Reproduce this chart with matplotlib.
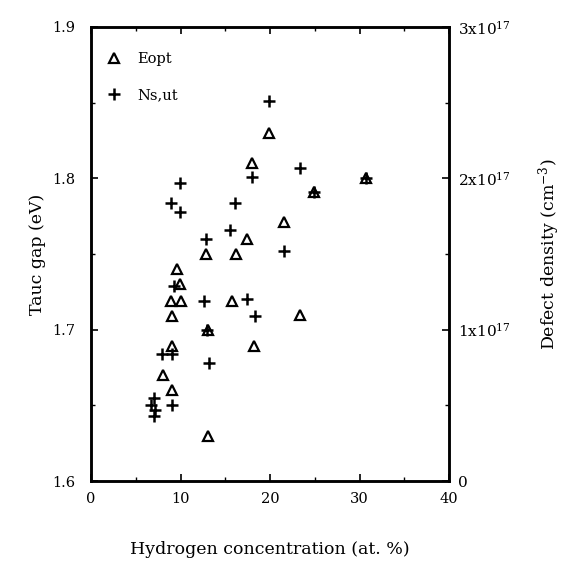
"""
Tauc gap and defect density against hydrogen concentration
"""
import matplotlib

matplotlib.use("Agg")
import matplotlib.pyplot as plt
from matplotlib.ticker import FixedLocator, MultipleLocator

plt.rcParams["font.family"] = ["DejaVu Serif"]
plt.rcParams["mathtext.fontset"] = "dejavuserif"

# Optical (Tauc) gap, eV
eopt_h = [18.0, 19.9, 21.6, 17.4, 12.9, 16.2, 9.6, 9.9, 8.9, 10.0, 15.7, 9.0,
          13.1, 23.4, 18.2, 9.1, 8.1, 9.0, 13.1, 24.9, 30.7]
eopt_gap = [1.810, 1.830, 1.771, 1.760, 1.750, 1.750, 1.740, 1.730, 1.719, 1.719,
            1.719, 1.709, 1.700, 1.710, 1.689, 1.689, 1.670, 1.660, 1.630, 1.791, 1.800]

# Defect density, units of 1e17 cm^-3
ns_h = [19.9, 18.0, 23.4, 9.9, 8.9, 9.9, 16.1, 15.5, 12.9, 21.6, 9.3, 12.6, 17.4,
        18.3, 13.0, 7.9, 9.0, 13.2, 9.0, 7.0, 6.7, 7.1, 7.0, 24.9, 30.7]
ns_val = [2.51, 2.01, 2.07, 1.97, 1.84, 1.78, 1.84, 1.66, 1.60, 1.52, 1.29, 1.19, 1.20,
          1.09, 1.00, 0.84, 0.84, 0.78, 0.50, 0.55, 0.50, 0.47, 0.43, 1.91, 2.00]

right_ticks = [0, 1e17, 2e17, 3e17]
right_labels = ["0", r"1x10$^{17}$", r"2x10$^{17}$", r"3x10$^{17}$"]

fig = plt.figure(figsize=(5.64, 5.62), dpi=100)
ax = fig.add_axes([0.1613, 0.144, 0.635, 0.808])
ax2 = ax.twinx()

ax.plot(eopt_h, eopt_gap, linestyle="none", marker="^", markersize=7.5,
        markerfacecolor="none", markeredgecolor="black", markeredgewidth=1.6,
        label="Eopt", zorder=3)
ax2.plot(ns_h, [v * 1e17 for v in ns_val], linestyle="none", marker="+",
         markersize=8.5, markeredgewidth=1.8, color="black", zorder=3)
# legend entry for the twin axis series
ax.plot([], [], linestyle="none", marker="+", markersize=8.5, markeredgewidth=1.8,
        color="black", label="Ns,ut")

ax.set_xlim(0, 40)
ax.set_ylim(1.6, 1.9)
ax2.set_ylim(0, 3e17)

ax.xaxis.set_major_locator(MultipleLocator(10))
ax.xaxis.set_minor_locator(MultipleLocator(5))
ax.yaxis.set_major_locator(MultipleLocator(0.1))
ax.yaxis.set_minor_locator(MultipleLocator(0.05))
ax.yaxis.set_major_formatter(plt.FuncFormatter(lambda v, _: f"{v:.1f}"))
ax2.yaxis.set_major_locator(FixedLocator(right_ticks))
ax2.set_yticklabels(right_labels)
ax2.yaxis.set_minor_locator(MultipleLocator(0.5e17))

ax.tick_params(which="both", direction="in", top=True, labelsize=10.5)
ax.tick_params(which="major", length=5, width=1.2)
ax.tick_params(which="minor", length=3, width=1.0)
ax.tick_params(axis="y", pad=11)
ax.tick_params(axis="x", pad=8)
ax2.tick_params(which="both", direction="in", labelsize=11, pad=6.5)
ax2.tick_params(which="major", length=5, width=1.2)
ax2.tick_params(which="minor", length=3, width=1.0)

for axis in (ax, ax2):
    for spine in axis.spines.values():
        spine.set_linewidth(1.8)

ax.set_xlabel("Hydrogen concentration (at. %)", fontsize=12.5, labelpad=25)
ax.set_ylabel("Tauc gap (eV)", fontsize=12.5, labelpad=5)
ax2.set_ylabel("Defect density (cm$^{-3}$)", fontsize=12.5, labelpad=18)

ax.legend(loc="upper left", bbox_to_anchor=(0.0235, 0.958), frameon=False,
          fontsize=10.5, handletextpad=1.0, labelspacing=1.55, borderpad=0.4,
          borderaxespad=0.0, handlelength=1.2)

fig.savefig("out.png", dpi=100)
